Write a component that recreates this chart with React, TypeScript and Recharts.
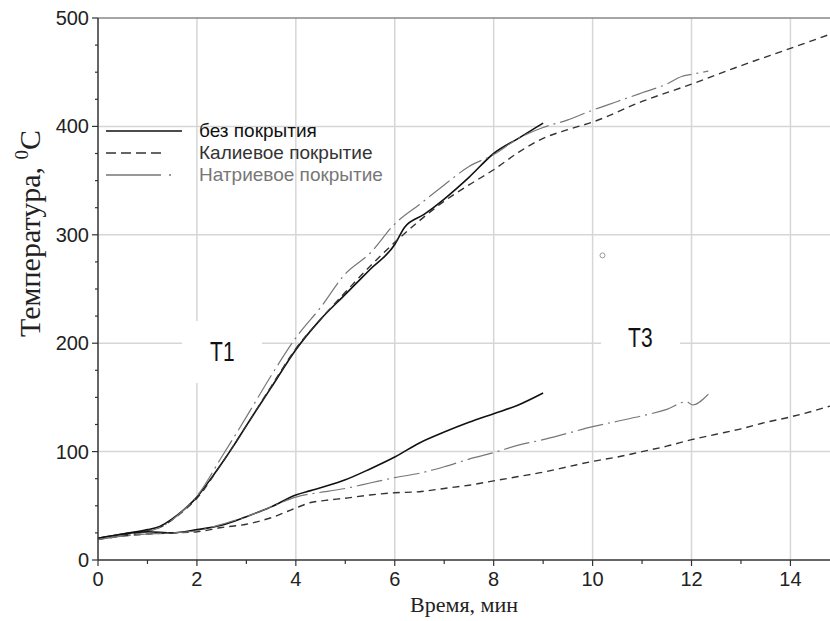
import React from "react";
import {
  LineChart,
  Line,
  XAxis,
  YAxis,
  CartesianGrid,
  ReferenceLine,
  ReferenceDot,
  Legend,
} from "recharts";

// T1 - upper curves, T3 - lower curves; time in minutes, temperature in °C
const t1BareTime = [0, 0.5, 1, 1.25, 1.5, 1.75, 2, 2.25, 2.5, 2.75, 3, 3.5, 4, 4.5, 5, 5.5, 6, 6.2, 6.6, 7, 7.5, 8, 8.5, 9];
const t1BareTemp = [20, 24, 28, 31, 38, 47, 58, 73, 89, 106, 124, 159, 194, 222, 245, 268, 291, 307, 319, 333, 353, 375, 389, 403];

const t1KTime = [0, 0.5, 1, 1.25, 1.5, 1.75, 2, 2.5, 3, 3.5, 4, 4.5, 5, 5.5, 6, 6.5, 7, 7.5, 8, 8.5, 9, 9.5, 10, 11, 12, 13, 14, 14.8];
const t1KTemp = [20, 23, 27, 30, 37, 46, 57, 89, 124, 160, 195, 222, 247, 271, 293, 313, 331, 346, 360, 376, 389, 397, 404, 423, 439, 456, 472, 485];

const t1NaTime = [0, 0.5, 1, 1.25, 1.5, 1.75, 2, 2.5, 3, 3.5, 4, 4.5, 5, 5.5, 6, 6.5, 7, 7.5, 8, 8.5, 9, 9.5, 10, 10.5, 11, 11.5, 11.8, 12, 12.34];
const t1NaTemp = [19, 23, 26, 30, 37, 47, 59, 95, 132, 170, 205, 233, 264, 283, 310, 328, 346, 363, 374, 389, 399, 406, 415, 423, 431, 439, 446, 448, 451];

const t3BareTime = [0, 0.5, 1, 1.5, 2, 2.5, 3, 3.5, 4, 4.3, 4.6, 5, 5.5, 6, 6.5, 7, 7.5, 8, 8.5, 9];
const t3BareTemp = [20, 24, 26, 25, 28, 32, 40, 49, 60, 64, 68, 74, 84, 95, 108, 118, 127, 135, 143, 154];

const t3KTime = [0, 0.5, 1, 1.5, 2, 2.5, 3, 3.5, 4, 4.3, 4.6, 5, 5.5, 6, 6.5, 7, 7.5, 8, 8.5, 9, 9.5, 10, 10.5, 11, 11.5, 12, 12.5, 13, 13.5, 14, 14.5, 14.8];
const t3KTemp = [19, 22, 24, 25, 26, 30, 33, 39, 48, 53, 55, 57, 60, 62, 63, 66, 69, 73, 77, 81, 86, 91, 95, 100, 105, 111, 116, 121, 127, 132, 138, 142];

const t3NaTime = [0, 0.5, 1, 1.5, 2, 2.5, 3, 3.5, 4, 4.3, 4.6, 5, 5.5, 6, 6.5, 7, 7.5, 8, 8.5, 9, 9.5, 10, 10.5, 11, 11.5, 11.9, 12.02, 12.34];
const t3NaTemp = [19, 22, 24, 25, 27, 33, 40, 49, 58, 61, 63, 66, 71, 76, 80, 86, 93, 99, 106, 111, 117, 123, 128, 133, 139, 146, 143, 153];

const xTicks = [0, 1, 2, 3, 4, 5, 6, 7, 8, 9, 10, 11, 12, 13, 14];
const yTicks = [0, 25, 50, 75, 100, 125, 150, 175, 200, 225, 250, 275, 300, 325, 350, 375, 400, 425, 450, 475, 500];
const xGrid = [2, 4, 6, 8, 10, 12, 14];
const yGrid = [100, 200, 300, 400];

const legendNames = ["без покрытия", "Калиевое покрытие", "Натриевое покрытие"];

const toRows = (time: number[], temp: number[]) => time.map((t, i) => ({ t, v: temp[i] }));

const SANS = "'Liberation Sans', Arial, sans-serif";
const SERIF = "'Liberation Serif', 'Times New Roman', serif";

const solid = { stroke: "#111", strokeWidth: 1.6 };
const dashed = { stroke: "#333", strokeWidth: 1.4, strokeDasharray: "7 5" };
const dashDot = { stroke: "#777", strokeWidth: 1.2, strokeDasharray: "26 5 2 5" };

function XTick({ x, y, payload }: any) {
  const major = payload.value % 2 === 0;
  return (
    <g>
      <line x1={x} x2={x} y1={y} y2={y + (major ? 6 : 4)} stroke="#333" strokeWidth={1.2} />
      {major && (
        <text x={x} y={y + 26} textAnchor="middle" fontSize={20} fill="#222" fontFamily={SANS}>
          {payload.value}
        </text>
      )}
    </g>
  );
}

function YTick({ x, y, payload }: any) {
  const major = payload.value % 100 === 0;
  return (
    <g>
      <line x1={x - (major ? 6 : 3)} x2={x} y1={y} y2={y} stroke="#333" strokeWidth={1.2} />
      {major && (
        <text x={x - 9} y={y + 7} textAnchor="end" fontSize={20} fill="#222" fontFamily={SANS}>
          {payload.value}
        </text>
      )}
    </g>
  );
}

function YTitle() {
  return (
    <text
      transform="translate(40, 130) rotate(-90)"
      textAnchor="end"
      fontSize={30}
      fill="#222"
      fontFamily={SERIF}
    >
      Температура,{" "}
      <tspan fontSize={19} dy={-12}>0</tspan>
      <tspan dy={12}>C</tspan>
    </text>
  );
}

function LegendBox() {
  const styles = [
    { ...solid, color: "#111", dash: undefined, w: 76 },
    { ...dashed, color: "#333", dash: "10 5", w: 58 },
    { ...dashDot, color: "#777", dash: "55 8 2 8", w: 66 },
  ];
  return (
    <div style={{ fontFamily: SANS, fontSize: 19 }}>
      {legendNames.map((name, i) => (
        <div key={name} style={{ display: "flex", alignItems: "center", height: 22 }}>
          <svg width={95} height={22}>
            <line
              x1={2}
              x2={2 + styles[i].w}
              y1={11}
              y2={11}
              stroke={styles[i].stroke}
              strokeWidth={1.6}
              strokeDasharray={styles[i].dash}
            />
          </svg>
          <span style={{ color: styles[i].color }}>{name}</span>
        </div>
      ))}
    </div>
  );
}

const boxLabel: React.CSSProperties = {
  position: "absolute",
  background: "#fff",
  display: "flex",
  alignItems: "center",
  justifyContent: "center",
  fontFamily: SANS,
  fontSize: 28,
  color: "#111",
};

export default function App() {
  return (
    <div style={{ position: "absolute", left: 0, top: 0, width: 830, height: 621, background: "#fff" }}>
      <LineChart width={830} height={621} margin={{ top: 18, right: 0, bottom: 0, left: 0 }}>
        <CartesianGrid
          horizontalValues={yGrid}
          verticalValues={xGrid}
          stroke="#d6d6d6"
          strokeWidth={1.5}
        />
        <ReferenceLine y={500} stroke="#888" strokeWidth={1.5} />
        <XAxis
          type="number"
          dataKey="t"
          domain={[0, 14.8]}
          ticks={xTicks}
          interval={0}
          height={61}
          tickSize={0}
          tickMargin={0}
          tick={<XTick />}
          axisLine={{ stroke: "#333", strokeWidth: 1.5 }}
          label={{
            value: "Время, мин",
            position: "insideBottom",
            offset: 9,
            style: { fontFamily: SERIF, fontSize: 22, fill: "#222" },
          }}
        />
        <YAxis
          type="number"
          domain={[0, 500]}
          ticks={yTicks}
          interval={0}
          width={98}
          tickSize={0}
          tickMargin={0}
          tick={<YTick />}
          axisLine={{ stroke: "#333", strokeWidth: 1.5 }}
          label={<YTitle />}
        />
        <Legend
          layout="vertical"
          align="center"
          verticalAlign="middle"
          wrapperStyle={{ position: "absolute", left: 104, top: 120, width: 320, height: 70 }}
          content={() => <LegendBox />}
        />
        <Line data={toRows(t1BareTime, t1BareTemp)} dataKey="v" type="monotone" dot={false} {...solid} isAnimationActive={false} />
        <Line data={toRows(t1KTime, t1KTemp)} dataKey="v" type="monotone" dot={false} {...dashed} isAnimationActive={false} />
        <Line data={toRows(t1NaTime, t1NaTemp)} dataKey="v" type="monotone" dot={false} {...dashDot} isAnimationActive={false} />
        <Line data={toRows(t3BareTime, t3BareTemp)} dataKey="v" type="monotone" dot={false} {...solid} isAnimationActive={false} />
        <Line data={toRows(t3KTime, t3KTemp)} dataKey="v" type="monotone" dot={false} {...dashed} isAnimationActive={false} />
        <Line data={toRows(t3NaTime, t3NaTemp)} dataKey="v" type="monotone" dot={false} {...dashDot} isAnimationActive={false} />
        <ReferenceDot x={10.2} y={281} r={2.5} fill="#fff" stroke="#99a" strokeWidth={1} />
      </LineChart>
      <div style={{ ...boxLabel, left: 182, top: 321, width: 80, height: 62 }}>
        <span style={{ display: "inline-block", transform: "scaleX(0.75)" }}>T1</span>
      </div>
      <div style={{ ...boxLabel, left: 601, top: 310, width: 79, height: 56 }}>
        <span style={{ display: "inline-block", transform: "scaleX(0.75)" }}>T3</span>
      </div>
    </div>
  );
}
